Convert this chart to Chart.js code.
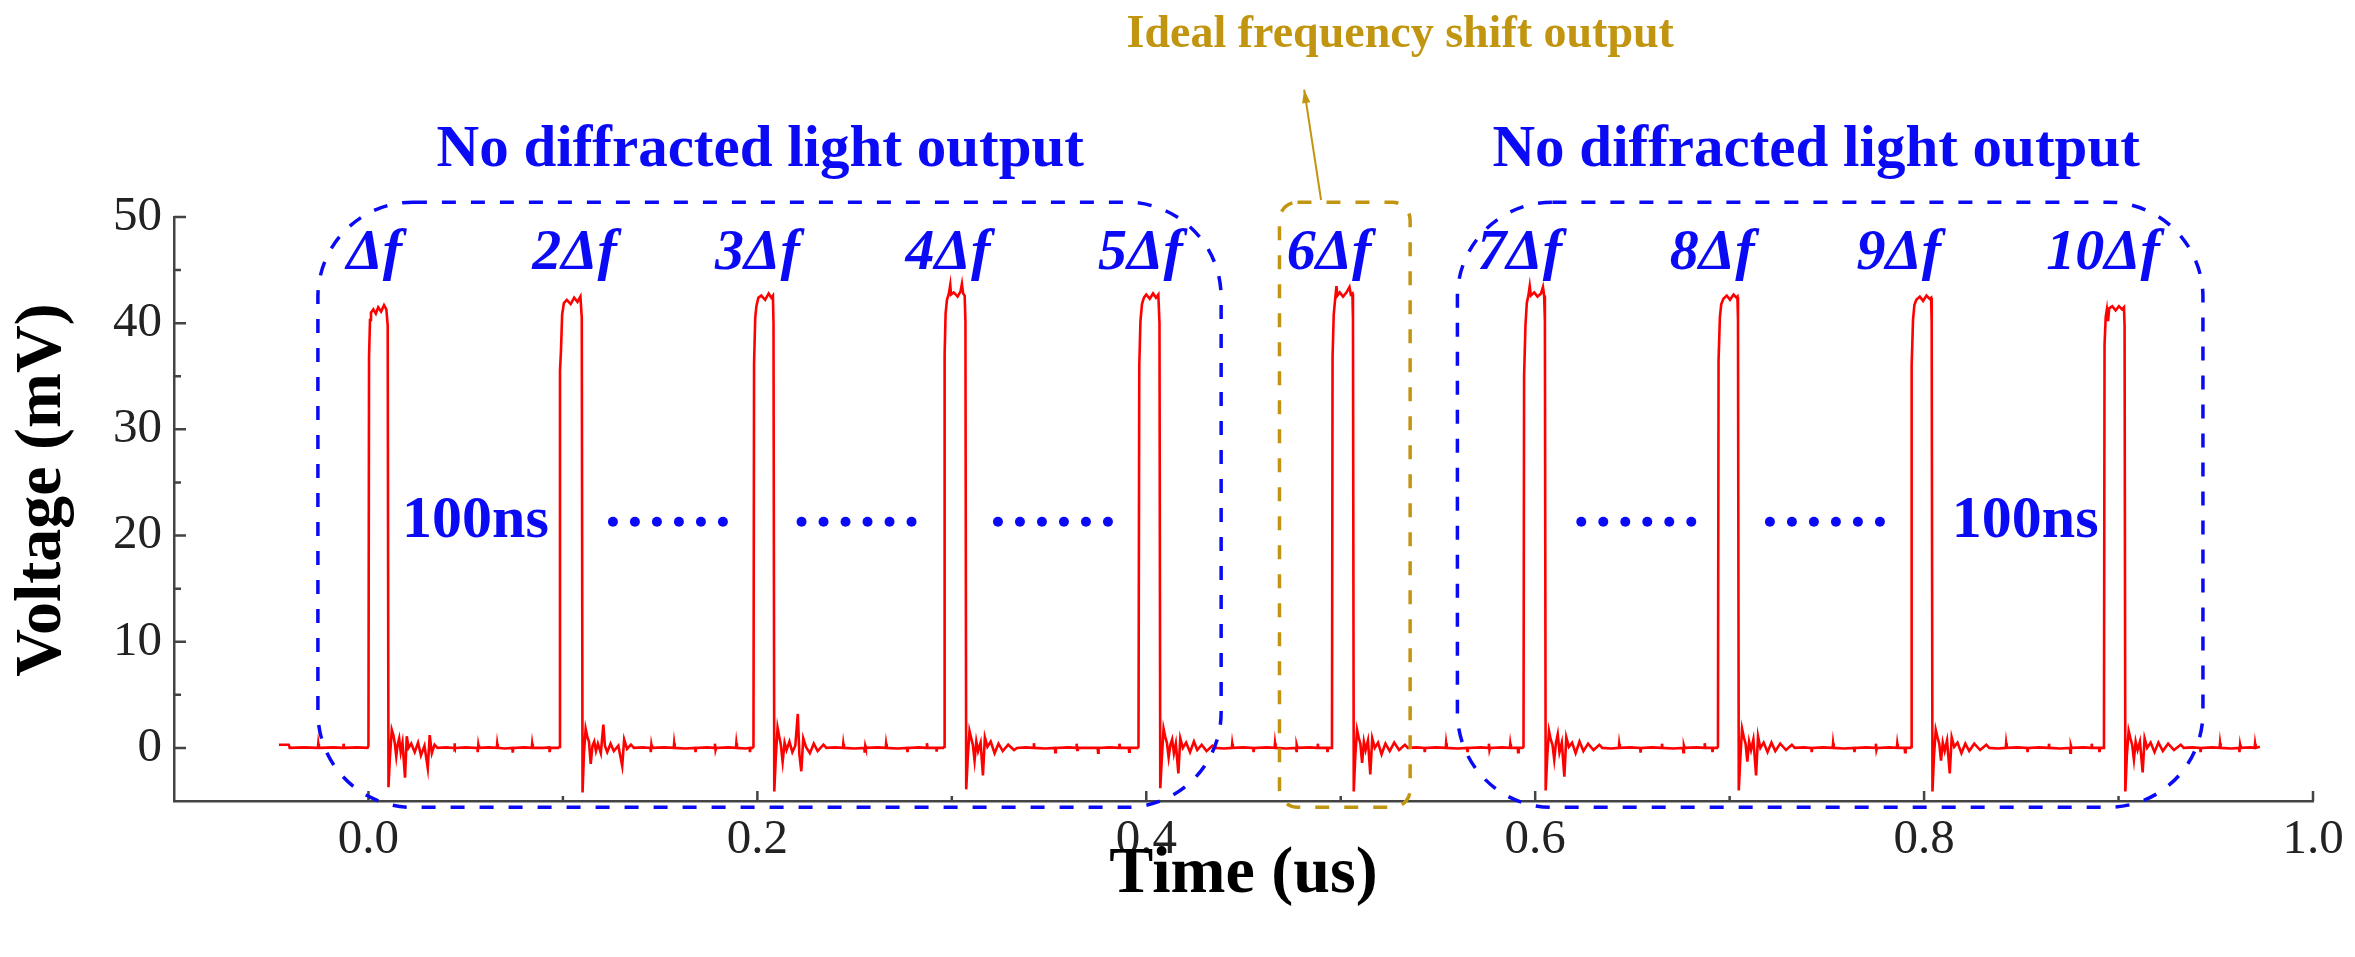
<!DOCTYPE html>
<html>
<head>
<meta charset="utf-8">
<script src="https://cdn.jsdelivr.net/npm/chart.js@4.4.0/dist/chart.umd.min.js"></script>
<style>
  html, body { margin: 0; padding: 0; background: #fff; }
  #wrap { width: 2355px; height: 957px; }
</style>
</head>
<body>
<div id="wrap"><canvas id="myChart" width="2355" height="957"></canvas></div>
<script>
// trace: [time (us), voltage (mV)]
const lead = [
  [-0.046, 0.3], [-0.041, 0.3], [-0.0405, 0.0], [-0.033, 0.05], [-0.026, 0.0], [-0.0258, 0.4], [-0.0255, 0.0],
  [-0.018, 0.05], [-0.013, 0.0], [-0.0128, 0.4], [-0.0125, 0.0], [-0.006, 0.05], [-0.0005, 0.0],
];
const pulse1 = [
  [0.0, 0.2], [0.0003, 36.8], [0.0008, 40.3], [0.0013, 41.0], [0.0025, 41.3], [0.0038, 40.9], [0.005, 41.5],
  [0.0065, 41.1], [0.008, 41.7], [0.0092, 41.3], [0.0099, 39.8], [0.0103, -3.7],
  [0.0110, -1.0], [0.0120, 1.7], [0.0128, 1.2], [0.0135, 0.5], [0.0143, -0.8], [0.0150, 0.3], [0.0158, 0.9],
  [0.0166, -0.4], [0.0175, 0.5], [0.0188, -2.8], [0.0197, 1.1], [0.0206, 0.0], [0.0220, 0.4], [0.0238, -0.4],
  [0.0255, 0.5], [0.0270, -0.7], [0.0288, 0.2], [0.0305, -1.9], [0.0315, 1.2], [0.0326, -0.5], [0.0340, 0.3],
  [0.0355, 0.0], [0.0400, 0.05], [0.0440, 0.0], [0.0442, 0.45], [0.0445, -0.1], [0.0448, 0.0], [0.0500, 0.05],
  [0.0560, 0.0], [0.0562, -0.4], [0.0565, 0.3], [0.0568, 0.0], [0.0620, 0.05], [0.0660, 0.0], [0.0662, 0.4],
  [0.0665, 0.0], [0.0700, -0.05], [0.0740, 0.0], [0.0742, -0.45], [0.0745, 0.0], [0.0800, 0.05], [0.0840, 0.0],
  [0.0842, 0.4], [0.0845, 0.0], [0.0900, 0.0], [0.0930, 0.05], [0.0932, -0.4], [0.0935, 0.0], [0.0975, 0.0],
];
const pulse2 = [
  [0.0982, 0.1], [0.0985, 35.5], [0.0990, 37.4], [0.0996, 40.8], [0.1005, 41.9], [0.1020, 42.2], [0.1040, 41.8],
  [0.1058, 42.4], [0.1075, 42.0], [0.1090, 42.5], [0.1097, 40.5], [0.1101, -4.2],
  [0.1108, -0.6], [0.1117, 1.8], [0.1126, 1.0], [0.1134, 0.6], [0.1143, -1.5], [0.1152, 0.2], [0.1161, 0.6],
  [0.1170, -0.3], [0.1180, 0.4], [0.1195, -0.5], [0.1208, 2.2], [0.1216, 0.2], [0.1228, -0.4], [0.1245, 0.4],
  [0.1262, -0.3], [0.1285, 0.2], [0.1305, -1.7], [0.1315, 0.8], [0.1330, -0.1], [0.1350, 0.3],
  [0.1365, 0.0], [0.1410, 0.05], [0.1450, 0.0], [0.1452, -0.4], [0.1455, 0.3], [0.1458, 0.0], [0.1520, 0.05],
  [0.1570, 0.0], [0.1572, 0.45], [0.1575, 0.0], [0.1630, -0.05], [0.1680, 0.0], [0.1682, -0.4], [0.1685, 0.0],
  [0.1740, 0.05], [0.1780, 0.0], [0.1782, 0.4], [0.1785, -0.2], [0.1788, 0.0], [0.1850, 0.05], [0.1890, 0.0],
  [0.1892, 0.45], [0.1895, 0.0], [0.1940, -0.05], [0.1960, 0.0], [0.1962, -0.4], [0.1965, 0.0], [0.1975, 0.0],
];
const pulse3 = [
  [0.1980, 0.1], [0.1983, 36.2], [0.1989, 40.5], [0.1995, 41.6], [0.2005, 42.4], [0.2020, 42.6], [0.2040, 42.2],
  [0.2058, 42.8], [0.2072, 42.4], [0.2080, 42.6], [0.2083, 40.0], [0.2087, -4.1],
  [0.2095, -0.8], [0.2104, 1.9], [0.2112, 1.1], [0.2120, 0.4], [0.2130, -1.3], [0.2140, 0.5], [0.2150, -0.2],
  [0.2165, 0.6], [0.2180, -0.4], [0.2195, 0.2], [0.2208, 3.2], [0.2216, -0.6], [0.2226, -2.2], [0.2236, 0.9],
  [0.2250, 0.1], [0.2270, -0.5], [0.2290, 0.4], [0.2310, -0.3], [0.2340, 0.3],
  [0.2355, 0.0], [0.2400, 0.05], [0.2440, 0.0], [0.2442, 0.4], [0.2445, 0.0], [0.2500, -0.05], [0.2550, 0.0],
  [0.2552, -0.45], [0.2555, 0.2], [0.2558, 0.0], [0.2620, 0.05], [0.2660, 0.0], [0.2662, 0.4], [0.2665, 0.0],
  [0.2720, -0.05], [0.2770, 0.0], [0.2772, -0.4], [0.2775, 0.0], [0.2830, 0.05], [0.2870, 0.0], [0.2872, 0.45],
  [0.2875, 0.0], [0.2920, 0.0], [0.2922, -0.35], [0.2925, 0.0], [0.2955, 0.0],
];
const pulse4 = [
  [0.2960, 0.1], [0.2963, 37.0], [0.2968, 40.9], [0.2975, 42.2], [0.2985, 42.8], [0.2992, 43.6], [0.2996, 42.7],
  [0.3010, 42.9], [0.3030, 42.5], [0.3045, 43.0], [0.3052, 43.7], [0.3058, 42.8], [0.3066, 42.6], [0.3070, 40.2],
  [0.3074, -3.9],
  [0.3082, -0.9], [0.3091, 1.6], [0.3100, 0.9], [0.3108, 0.3], [0.3117, -1.2], [0.3126, 0.6], [0.3135, -0.3],
  [0.3148, 0.5], [0.3160, -2.6], [0.3170, 1.0], [0.3183, 0.1], [0.3200, 0.6], [0.3220, -0.5], [0.3240, 0.4],
  [0.3262, -0.3], [0.3290, 0.3], [0.3320, -0.2],
  [0.3335, 0.0], [0.3380, 0.05], [0.3420, 0.0], [0.3422, 0.45], [0.3425, 0.0], [0.3480, -0.05], [0.3530, 0.0],
  [0.3532, -0.4], [0.3535, 0.0], [0.3600, 0.05], [0.3640, 0.0], [0.3642, 0.4], [0.3645, -0.2], [0.3648, 0.0],
  [0.3700, 0.0], [0.3750, 0.0], [0.3752, -0.45], [0.3755, 0.0], [0.3810, 0.05], [0.3860, 0.0], [0.3862, 0.4],
  [0.3865, 0.0], [0.3910, 0.0], [0.3912, -0.35], [0.3915, 0.0], [0.3955, 0.0],
];
const pulse5 = [
  [0.3960, 0.1], [0.3964, 36.0], [0.3970, 40.2], [0.3978, 41.8], [0.3988, 42.4], [0.4000, 42.7], [0.4018, 42.3],
  [0.4035, 42.8], [0.4050, 42.4], [0.4062, 42.7], [0.4068, 40.0], [0.4072, -3.8],
  [0.4080, -1.0], [0.4089, 1.8], [0.4097, 1.1], [0.4106, 0.5], [0.4115, -0.9], [0.4124, 0.3], [0.4133, 0.8],
  [0.4142, -0.5], [0.4152, 0.4], [0.4165, -2.4], [0.4175, 0.9], [0.4188, 0.0], [0.4205, 0.5], [0.4225, -0.4],
  [0.4245, 0.6], [0.4262, -0.2], [0.4285, 0.3], [0.4310, -0.3], [0.4340, 0.2],
  [0.4355, 0.0], [0.4400, -0.05], [0.4440, 0.0], [0.4442, 0.4], [0.4445, 0.0], [0.4500, 0.05], [0.4550, 0.0],
  [0.4552, -0.4], [0.4555, 0.0], [0.4620, 0.05], [0.4660, 0.0], [0.4662, 0.45], [0.4665, 0.0], [0.4720, -0.05],
  [0.4770, 0.0], [0.4772, -0.4], [0.4775, 0.3], [0.4778, 0.0], [0.4840, 0.05], [0.4880, 0.0], [0.4882, 0.4],
  [0.4885, 0.0], [0.4930, 0.0], [0.4932, -0.4], [0.4935, 0.0], [0.4950, 0.0],
];
const pulse6 = [
  [0.4955, 0.1], [0.4958, 36.8], [0.4964, 40.8], [0.4970, 42.0], [0.4978, 43.5], [0.4983, 42.6], [0.4995, 42.9],
  [0.5012, 42.5], [0.5030, 42.9], [0.5045, 43.4], [0.5052, 42.7], [0.5060, 42.8], [0.5063, 40.4], [0.5067, -4.1],
  [0.5075, -0.7], [0.5084, 1.7], [0.5092, 1.0], [0.5101, 0.4], [0.5110, -1.4], [0.5119, 0.6], [0.5128, -0.2],
  [0.5140, 0.7], [0.5152, -2.5], [0.5162, 0.9], [0.5175, 0.0], [0.5192, 0.5], [0.5210, -0.6], [0.5230, 0.4],
  [0.5252, -0.3], [0.5275, 0.5], [0.5300, -0.2], [0.5330, 0.3],
  [0.5345, 0.0], [0.5390, 0.05], [0.5430, 0.0], [0.5432, -0.4], [0.5435, 0.0], [0.5490, 0.05], [0.5540, 0.0],
  [0.5542, 0.45], [0.5545, 0.0], [0.5600, -0.05], [0.5650, 0.0], [0.5652, -0.4], [0.5655, 0.0], [0.5720, 0.05],
  [0.5760, 0.0], [0.5762, 0.4], [0.5765, -0.2], [0.5768, 0.0], [0.5830, 0.05], [0.5870, 0.0], [0.5872, 0.4],
  [0.5875, 0.0], [0.5910, 0.0], [0.5912, -0.4], [0.5915, 0.0], [0.5935, 0.0],
];
const pulse7 = [
  [0.5940, 0.1], [0.5943, 35.0], [0.5950, 39.8], [0.5957, 41.9], [0.5965, 42.6], [0.5972, 43.5], [0.5978, 42.6],
  [0.5995, 42.9], [0.6012, 42.5], [0.6030, 42.8], [0.6040, 43.4], [0.6046, 42.6], [0.6050, 40.2], [0.6054, -4.0],
  [0.6062, -0.8], [0.6071, 1.6], [0.6080, 0.8], [0.6089, 0.3], [0.6098, -1.1], [0.6107, 0.5], [0.6116, 1.3],
  [0.6125, -0.4], [0.6137, 0.5], [0.6150, -2.7], [0.6160, 1.0], [0.6173, 0.1], [0.6190, 0.5], [0.6208, -0.5],
  [0.6228, 0.6], [0.6248, -0.3], [0.6272, 0.4], [0.6300, -0.2], [0.6330, 0.3],
  [0.6345, 0.0], [0.6390, -0.05], [0.6430, 0.0], [0.6432, 0.4], [0.6435, 0.0], [0.6490, 0.05], [0.6540, 0.0],
  [0.6542, -0.45], [0.6545, 0.0], [0.6600, 0.05], [0.6650, 0.0], [0.6652, 0.4], [0.6655, 0.0], [0.6710, -0.05],
  [0.6760, 0.0], [0.6762, -0.4], [0.6765, 0.2], [0.6768, 0.0], [0.6830, 0.05], [0.6870, 0.0], [0.6872, 0.45],
  [0.6875, 0.0], [0.6910, 0.0], [0.6912, -0.4], [0.6915, 0.0], [0.6935, 0.0],
];
const pulse8 = [
  [0.6940, 0.1], [0.6943, 36.5], [0.6950, 40.6], [0.6957, 41.8], [0.6968, 42.3], [0.6985, 42.6], [0.7002, 42.2],
  [0.7020, 42.7], [0.7035, 42.4], [0.7040, 42.5], [0.7043, 40.3], [0.7047, -4.0],
  [0.7055, -0.9], [0.7064, 1.8], [0.7073, 1.0], [0.7082, 0.4], [0.7091, -1.3], [0.7100, 0.6], [0.7110, -0.2],
  [0.7122, 0.8], [0.7136, -2.6], [0.7146, 1.1], [0.7158, 0.0], [0.7175, 0.5], [0.7195, -0.4], [0.7215, 0.5],
  [0.7235, -0.3], [0.7260, 0.4], [0.7290, -0.2], [0.7320, 0.3],
  [0.7335, 0.0], [0.7380, 0.05], [0.7420, 0.0], [0.7422, -0.4], [0.7425, 0.0], [0.7480, 0.05], [0.7530, 0.0],
  [0.7532, 0.45], [0.7535, 0.0], [0.7590, -0.05], [0.7640, 0.0], [0.7642, -0.4], [0.7645, 0.0], [0.7700, 0.05],
  [0.7750, 0.0], [0.7752, 0.4], [0.7755, -0.2], [0.7758, 0.0], [0.7820, 0.05], [0.7860, 0.0], [0.7862, 0.4],
  [0.7865, 0.0], [0.7900, 0.0], [0.7902, -0.4], [0.7905, 0.0], [0.7930, 0.0],
];
const pulse9 = [
  [0.7933, 0.1], [0.7936, 36.0], [0.7943, 40.3], [0.7950, 41.7], [0.7960, 42.2], [0.7978, 42.5], [0.7995, 42.1],
  [0.8012, 42.6], [0.8028, 42.3], [0.8036, 42.4], [0.8039, 40.1], [0.8043, -4.1],
  [0.8051, -0.7], [0.8060, 1.7], [0.8069, 1.0], [0.8078, 0.4], [0.8087, -1.2], [0.8096, 0.5], [0.8106, -0.3],
  [0.8118, 0.7], [0.8132, -2.4], [0.8142, 1.0], [0.8155, 0.1], [0.8172, 0.5], [0.8192, -0.5], [0.8212, 0.4],
  [0.8232, -0.3], [0.8258, 0.4], [0.8288, -0.2], [0.8320, 0.3],
  [0.8335, 0.0], [0.8380, -0.05], [0.8420, 0.0], [0.8422, 0.45], [0.8425, 0.0], [0.8480, 0.05], [0.8530, 0.0],
  [0.8532, -0.4], [0.8535, 0.0], [0.8590, 0.05], [0.8640, 0.0], [0.8642, 0.4], [0.8645, 0.0], [0.8700, -0.05],
  [0.8750, 0.0], [0.8752, -0.45], [0.8755, 0.2], [0.8758, 0.0], [0.8820, 0.05], [0.8860, 0.0], [0.8862, 0.4],
  [0.8865, 0.0], [0.8900, 0.0], [0.8902, -0.4], [0.8905, 0.0], [0.8922, 0.0],
];
const pulse10 = [
  [0.8925, 0.1], [0.8928, 38.0], [0.8934, 40.6], [0.8940, 41.3], [0.8946, 40.2], [0.8952, 41.4], [0.8968, 41.6],
  [0.8985, 41.2], [0.9002, 41.6], [0.9018, 41.3], [0.9028, 41.5], [0.9031, 39.8], [0.9035, -4.1],
  [0.9043, -0.6], [0.9052, 1.6], [0.9061, 0.9], [0.9070, 0.3], [0.9079, -1.1], [0.9088, 0.6], [0.9098, -0.2],
  [0.9110, 0.6], [0.9124, -2.3], [0.9134, 0.9], [0.9147, 0.0], [0.9165, 0.5], [0.9185, -0.4], [0.9205, 0.5],
  [0.9228, -0.3], [0.9255, 0.4], [0.9285, -0.2], [0.9320, 0.3],
  [0.9335, 0.0], [0.9380, 0.05], [0.9420, 0.0], [0.9422, -0.4], [0.9425, 0.0], [0.9480, 0.05], [0.9520, 0.0],
  [0.9522, 0.45], [0.9525, 0.0], [0.9580, -0.05], [0.9620, 0.0], [0.9622, -0.4], [0.9625, 0.3], [0.9628, 0.0],
  [0.9680, 0.05], [0.9700, 0.0], [0.9702, 0.4], [0.9705, 0.0], [0.9727, 0.1],
];

// annotation text
const pulseLabels = ['Δf', '2Δf', '3Δf', '4Δf', '5Δf', '6Δf', '7Δf', '8Δf', '9Δf', '10Δf'];
const pulseLabelTimes = [0.003, 0.106, 0.200, 0.298, 0.397, 0.494, 0.592, 0.691, 0.787, 0.892];
const spacingTimes = [0.055, 0.852];
const ellipsisTimes = [0.154, 0.251, 0.352, 0.652, 0.749];

const BLUE = '#0a0af5';
const GOLD = '#c29511';
const SERIF = '"Liberation Serif", "Times New Roman", serif';

const tracePoints = [lead, pulse1, pulse2, pulse3, pulse4, pulse5, pulse6, pulse7, pulse8, pulse9, pulse10]
  .flat()
  .map(([t, v]) => ({ x: t, y: v }));

function roundBox(ctx, x0, y0, x1, y1, r) {
  ctx.beginPath();
  ctx.moveTo(x0 + r, y0);
  ctx.lineTo(x1 - r, y0);
  ctx.arcTo(x1, y0, x1, y0 + r, r);
  ctx.lineTo(x1, y1 - r);
  ctx.arcTo(x1, y1, x1 - r, y1, r);
  ctx.lineTo(x0 + r, y1);
  ctx.arcTo(x0, y1, x0, y1 - r, r);
  ctx.lineTo(x0, y0 + r);
  ctx.arcTo(x0, y0, x0 + r, y0, r);
  ctx.closePath();
  ctx.stroke();
}

const decorPlugin = {
  id: 'decor',
  afterDraw(chart) {
    const { ctx, chartArea: area, scales: { x, y } } = chart;
    ctx.save();

    // inward ticks
    ctx.strokeStyle = '#444';
    ctx.lineWidth = 2.5;
    ctx.beginPath();
    for (let v = 0; v <= 50; v += 5) {
      const py = y.getPixelForValue(v);
      ctx.moveTo(area.left, py);
      ctx.lineTo(area.left + (v % 10 === 0 ? 12 : 7), py);
    }
    for (let i = 0; i <= 10; i++) {
      const px = x.getPixelForValue(i / 10);
      ctx.moveTo(px, area.bottom);
      ctx.lineTo(px, area.bottom - (i % 2 === 0 ? 10 : 5));
    }
    ctx.stroke();

    // axis titles
    ctx.fillStyle = '#000';
    ctx.font = 'bold 66px ' + SERIF;
    ctx.textAlign = 'center';
    ctx.textBaseline = 'alphabetic';
    ctx.fillText('Time (us)', (area.left + area.right) / 2, 892);
    ctx.save();
    ctx.translate(60, 490);
    ctx.rotate(-Math.PI / 2);
    ctx.fillText('Voltage (mV)', 0, 0);
    ctx.restore();

    // dashed rounded boxes
    const boxes = [
      { t0: -0.026, t1: 0.4385, r: 95, color: BLUE },
      { t0: 0.4685, t1: 0.5357, r: 18, color: GOLD },
      { t0: 0.560, t1: 0.9434, r: 95, color: BLUE },
    ];
    ctx.lineWidth = 3.5;
    ctx.setLineDash([14, 15]);
    boxes.forEach(b => {
      ctx.strokeStyle = b.color;
      roundBox(ctx, x.getPixelForValue(b.t0), y.getPixelForValue(51.4),
        x.getPixelForValue(b.t1), y.getPixelForValue(-5.6), b.r);
    });
    ctx.setLineDash([]);

    // arrow to the ideal output label
    const ax0 = x.getPixelForValue(0.4899), ay0 = y.getPixelForValue(51.6);
    const ax1 = x.getPixelForValue(0.4812), ay1 = y.getPixelForValue(62.0);
    ctx.strokeStyle = GOLD;
    ctx.fillStyle = GOLD;
    ctx.lineWidth = 2;
    ctx.beginPath();
    ctx.moveTo(ax0, ay0);
    ctx.lineTo(ax1, ay1);
    ctx.stroke();
    const ang = Math.atan2(ay1 - ay0, ax1 - ax0);
    ctx.beginPath();
    ctx.moveTo(ax1, ay1);
    ctx.lineTo(ax1 - 14 * Math.cos(ang - 0.3), ay1 - 14 * Math.sin(ang - 0.3));
    ctx.lineTo(ax1 - 14 * Math.cos(ang + 0.3), ay1 - 14 * Math.sin(ang + 0.3));
    ctx.closePath();
    ctx.fill();

    ctx.font = 'bold 46px ' + SERIF;
    ctx.fillText('Ideal frequency shift output', x.getPixelForValue(0.5306), y.getPixelForValue(66.0));

    ctx.fillStyle = BLUE;
    ctx.font = 'bold 59px ' + SERIF;
    ctx.fillText('No diffracted light output', x.getPixelForValue(0.2015), y.getPixelForValue(54.85));
    ctx.fillText('No diffracted light output', x.getPixelForValue(0.7445), y.getPixelForValue(54.85));

    ctx.font = 'italic bold 58px ' + SERIF;
    pulseLabels.forEach((lab, i) => {
      ctx.fillText(lab, x.getPixelForValue(pulseLabelTimes[i]), y.getPixelForValue(45.1));
    });

    ctx.font = 'bold 60px ' + SERIF;
    spacingTimes.forEach(t => ctx.fillText('100ns', x.getPixelForValue(t), y.getPixelForValue(19.9)));

    ellipsisTimes.forEach(t => {
      const cx = x.getPixelForValue(t), cy = y.getPixelForValue(21.3);
      for (let k = 0; k < 6; k++) {
        ctx.beginPath();
        ctx.arc(cx + (k - 2.5) * 22, cy, 5, 0, Math.PI * 2);
        ctx.fill();
      }
    });

    ctx.restore();
  }
};

const ctx = document.getElementById('myChart').getContext('2d');
new Chart(ctx, {
  type: 'line',
  data: {
    datasets: [{
      label: 'Voltage',
      data: tracePoints,
      borderColor: '#ff0000',
      borderWidth: 2.6,
      pointRadius: 0,
      tension: 0,
      fill: false,
    }],
  },
  options: {
    responsive: false,
    animation: false,
    devicePixelRatio: 1,
    layout: { autoPadding: false, padding: { top: 217, right: 42, bottom: 0, left: 0 } },
    plugins: { legend: { display: false }, tooltip: { enabled: false } },
    scales: {
      x: {
        type: 'linear',
        min: -0.1,
        max: 1.0,
        afterFit: s => { s.height = 156; },
        grid: { display: false, drawTicks: false },
        border: { display: true, color: '#444', width: 2.5 },
        ticks: {
          stepSize: 0.1,
          autoSkip: false,
          maxRotation: 0,
          padding: 10,
          color: '#222',
          font: { family: SERIF, size: 49 },
          callback: v => {
            const k = Math.round(v * 10);
            return (k >= 0 && k % 2 === 0) ? (k / 10).toFixed(1) : '';
          },
        },
      },
      y: {
        min: -5,
        max: 50,
        afterFit: s => { s.width = 174; },
        grid: { display: false, drawTicks: false },
        border: { display: true, color: '#444', width: 2.5 },
        ticks: {
          stepSize: 5,
          autoSkip: false,
          padding: 12,
          color: '#222',
          font: { family: SERIF, size: 49 },
          callback: v => (v >= 0 && v % 10 === 0) ? String(v) : '',
        },
      },
    },
  },
  plugins: [decorPlugin],
});
</script>
</body>
</html>
